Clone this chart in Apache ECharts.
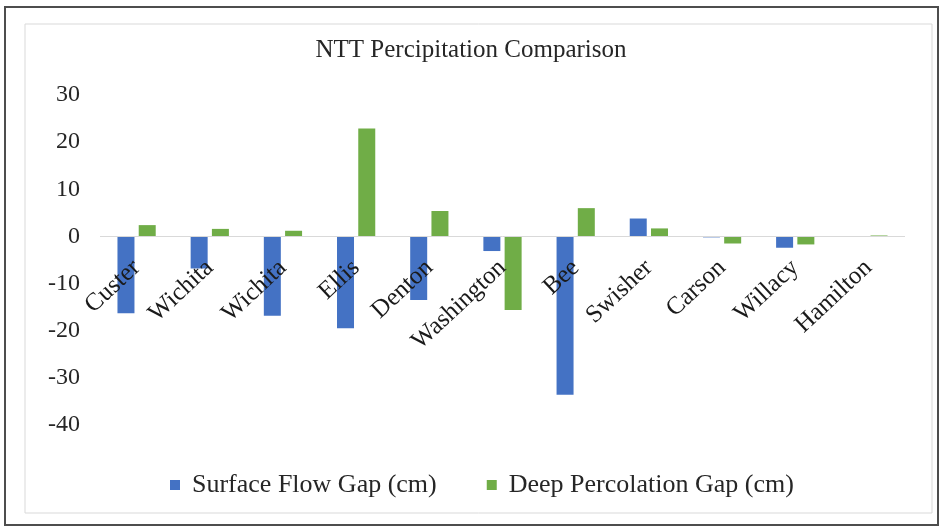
<!DOCTYPE html>
<html>
<head>
<meta charset="utf-8">
<script src="https://cdn.jsdelivr.net/npm/echarts@6/dist/echarts.min.js"></script>
<style>html,body{margin:0;padding:0;background:#fff;}#c{width:942px;height:529px;}</style>
</head>
<body>
<div id="c"></div>
<script>
const categories = ['Custer','Wichita','Wichita','Ellis','Denton','Washington','Bee','Swisher','Carson','Willacy','Hamilton'];
const surfaceFlowGap = [-16.3, -6.8, -16.8, -19.5, -13.5, -3.1, -33.6, 3.8, -0.2, -2.4, -0.1];
const deepPercolationGap = [2.4, 1.6, 1.2, 22.9, 5.4, -15.6, 6.0, 1.7, -1.5, -1.7, 0.2];
const seriesNames = ['Surface Flow Gap (cm)', 'Deep Percolation Gap (cm)'];
const yTicks = {min: -40, max: 30, interval: 10};

const FONT = '"Liberation Serif", "Times New Roman", serif';
const chart = echarts.init(document.getElementById('c'));
chart.setOption({
  animation: false,
  backgroundColor: '#fff',
  title: {
    text: 'NTT Percipitation Comparison',
    left: 'center', top: 33,
    textStyle: {fontFamily: FONT, fontSize: 25, fontWeight: 'normal', color: '#262626'}
  },
  legend: {
    left: 165, top: 467,
    icon: 'rect', itemWidth: 10, itemHeight: 10, itemGap: 50,
    textStyle: {fontFamily: FONT, fontSize: 26, color: '#262626', padding: [0,0,0,7]},
    data: seriesNames
  },
  grid: {left: 100, right: 37, top: 95, bottom: 104, containLabel: false},
  xAxis: {
    type: 'category', data: categories, z: 5,
    axisLine: {show: false, onZero: false},
    axisTick: {show: false},
    axisLabel: {rotate: 43, interval: 0, margin: 22, fontFamily: FONT, fontSize: 25, color: '#1a1a1a'}
  },
  yAxis: {
    type: 'value', min: yTicks.min, max: yTicks.max, interval: yTicks.interval,
    axisLine: {show: false}, axisTick: {show: false}, splitLine: {show: false},
    axisLabel: {margin: 20, fontFamily: FONT, fontSize: 24, color: '#262626'}
  },
  series: [
    {name: seriesNames[0], type: 'bar', data: surfaceFlowGap, barWidth: 17, barGap: '25%', itemStyle: {color: '#4472C4'},
     markLine: {silent: true, symbol: 'none', label: {show: false}, lineStyle: {color: '#d9d9d9', width: 1, type: 'solid'}, data: [{yAxis: 0}]}},
    {name: seriesNames[1], type: 'bar', data: deepPercolationGap, barWidth: 17, itemStyle: {color: '#70AD47'}}
  ],
  graphic: [
    {type: 'rect', shape: {x: 25, y: 24, width: 907, height: 489}, style: {fill: 'none', stroke: '#d9d9d9', lineWidth: 1}, silent: true},
    {type: 'rect', shape: {x: 5, y: 7, width: 933, height: 518}, style: {fill: 'none', stroke: '#4d4d4d', lineWidth: 2}, silent: true}
  ]
});
// move the category axis labels up to the value-axis zero
const zeroY = chart.convertToPixel({yAxisIndex: 0}, 0);
const bottomY = chart.convertToPixel({yAxisIndex: 0}, yTicks.min);
chart.setOption({xAxis: {offset: -(bottomY - zeroY)}});
</script>
</body>
</html>
